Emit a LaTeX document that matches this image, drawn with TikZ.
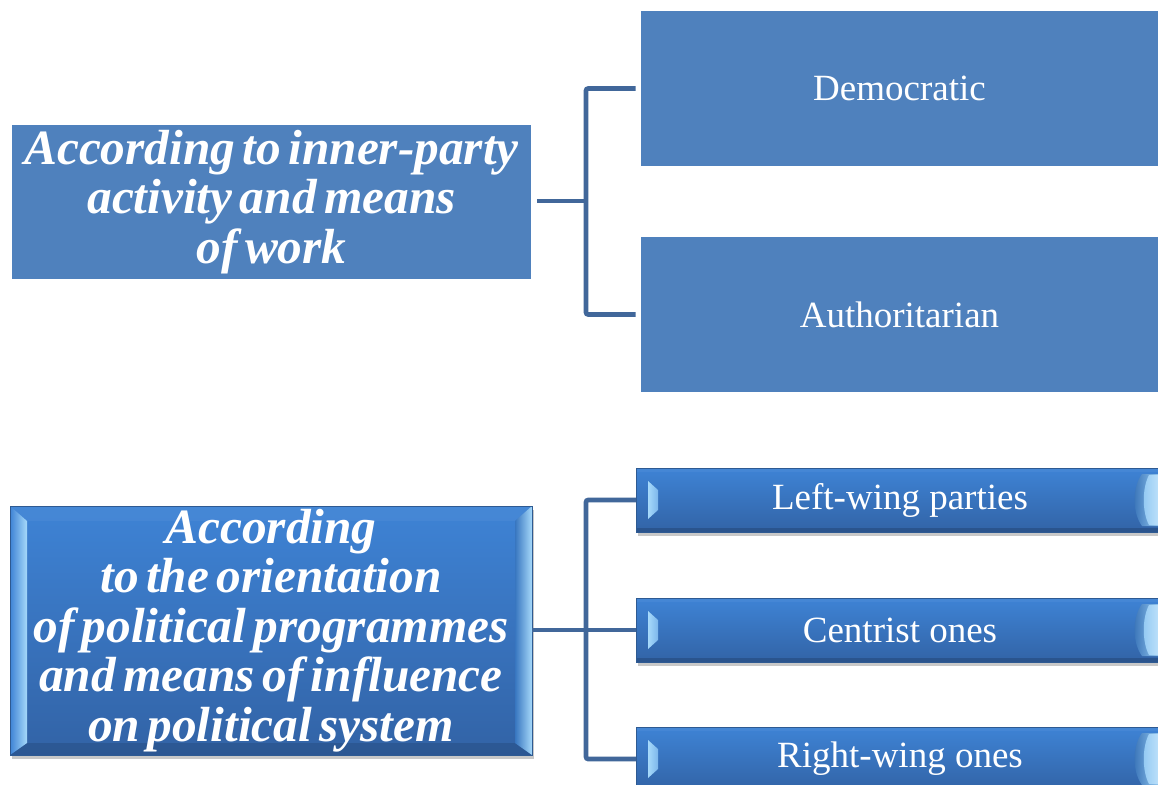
\documentclass[tikz,border=0pt]{standalone}
\usepackage{fontspec}
\setmainfont{Liberation Serif}
\newfontfamily\bifam{Liberation Serif}[WordSpace=0.6]
\usetikzlibrary{shadows,calc}
\definecolor{flatblue}{HTML}{4F81BD}
\definecolor{connblue}{HTML}{41679A}
\definecolor{bbtop}{HTML}{3E83D5}
\definecolor{bbbot}{HTML}{3263A6}
\definecolor{bbedge}{HTML}{2E5A92}
\definecolor{hilite}{HTML}{A6D9FA}
\newcommand{\bigfont}{\bifam\bfseries\itshape\fontsize{37pt}{37.2pt}\selectfont}
\newcommand{\regfont}{\fontsize{27.75pt}{33pt}\selectfont}
\tikzset{
  flatbox/.style={fill=flatblue, inner sep=0pt, outer sep=0pt, text=white, align=center},
  conn/.style={draw=connblue, line width=3.4pt, rounded corners=1.5pt},
  bevelbig/.style={top color=bbtop, bottom color=bbbot, draw=bbedge, line width=0.6pt,
    inner sep=0pt, outer sep=0pt, text=white, align=center,
    drop shadow={shadow xshift=1.5pt, shadow yshift=-3pt, opacity=0.3, fill=black!70},
    path picture={
      \coordinate (o1) at (path picture bounding box.north west);
      \coordinate (o2) at (path picture bounding box.north east);
      \coordinate (o3) at (path picture bounding box.south east);
      \coordinate (o4) at (path picture bounding box.south west);
      \coordinate (i1) at ([shift={(17,15)}]o1);
      \coordinate (i2) at ([shift={(-17,15)}]o2);
      \coordinate (i3) at ([shift={(-17,-12)}]o3);
      \coordinate (i4) at ([shift={(17,-12)}]o4);
      \fill[bbtop!80!white, opacity=0.2] (o1) -- (o2) -- (i2) -- (i1) -- cycle;
      \fill[bbbot!75!black, opacity=0.45] (o4) -- (i4) -- (i3) -- (o3) -- cycle;
      \shade[left color=bbtop, right color=hilite] (o1) -- (i1) -- (i4) -- (o4) -- cycle;
      \shade[left color=bbtop!90!black, right color=hilite] (i2) -- (o2) -- (o3) -- (i3) -- cycle;
    }},
  bevelsmall/.style={top color=bbtop, bottom color=bbbot, draw=bbedge, line width=0.6pt,
    inner sep=0pt, outer sep=0pt, text=white, align=center,
    drop shadow={shadow xshift=1.5pt, shadow yshift=-3pt, opacity=0.3, fill=black!70},
    path picture={
      \coordinate (o1) at (path picture bounding box.north west);
      \coordinate (o2) at (path picture bounding box.north east);
      \coordinate (o3) at (path picture bounding box.south east);
      \coordinate (o4) at (path picture bounding box.south west);
      \fill[bbtop!80!white, opacity=0.2] (o1) -- (o2) -- ([shift={(0,4)}]o2) -- ([shift={(0,4)}]o1) -- cycle;
      \fill[bbbot!70!black, opacity=0.5] (o4) -- (o3) -- ([shift={(0,-4)}]o3) -- ([shift={(0,-4)}]o4) -- cycle;
      \shade[left color=hilite, right color=hilite!60!bbtop] ([shift={(12,13)}]o1) -- ([shift={(22,22)}]o1) -- ([shift={(22,-22)}]o4) -- ([shift={(12,-13)}]o4) -- cycle;
      \shade[left color=bbtop!85!black, right color=hilite] ([shift={(-22,6)}]o2) .. controls ([shift={(-32,20)}]o2) and ([shift={(-32,-20)}]o3) .. ([shift={(-22,-6)}]o3) -- ([shift={(0,-6)}]o3) -- ([shift={(0,6)}]o2) -- cycle;
      \shade[left color=hilite!80!bbtop, right color=hilite!60!white] ([shift={(-15,7)}]o2) .. controls ([shift={(-22,20)}]o2) and ([shift={(-22,-20)}]o3) .. ([shift={(-15,-7)}]o3) -- ([shift={(0,-7)}]o3) -- ([shift={(0,7)}]o2) -- cycle;
    }}
}
\begin{document}
\begin{tikzpicture}[x=0.75pt, y=-0.75pt]
\useasboundingbox (0,0) rectangle (1158,785);
\clip (0,0) rectangle (1158,785);
\fill[white] (0,0) rectangle (1158,785);

% top group
\node[flatbox, font=\bigfont, minimum width=519*0.75pt, minimum height=154*0.75pt] (tl) at (271.5,202)
  {According to inner-party\\ activity and means\\ of work};
\node[flatbox, font=\regfont, minimum width=517*0.75pt, minimum height=155*0.75pt] (dem) at (899.5,88.5)
  {Democratic};
\node[flatbox, font=\regfont, minimum width=517*0.75pt, minimum height=155*0.75pt] (auth) at (899.5,314.5)
  {Authoritarian};
\coordinate (j1) at (586,201);
\draw[conn, shorten <=4.5pt] (tl.east |- j1) -- (j1);
\draw[conn, shorten <=4pt, shorten >=4pt] (dem.west) -| (j1) |- (auth.west);

% bottom group
\node[bevelbig, font=\bigfont, minimum width=522*0.75pt, minimum height=249*0.75pt] (bl) at (271,630.5)
  {According\\ to the orientation\\ of political programmes\\ and means of influence\\ on political system};
\node[bevelsmall, font=\regfont, minimum width=528*0.75pt, minimum height=64*0.75pt] (lw) at (900,500)
  {Left-wing parties};
\node[bevelsmall, font=\regfont, minimum width=528*0.75pt, minimum height=64*0.75pt] (cen) at (900,630)
  {Centrist ones};
\node[bevelsmall, font=\regfont, minimum width=528*0.75pt, minimum height=64*0.75pt] (rw) at (900,759)
  {Right-wing ones};
\coordinate (j2) at (586,630);
\draw[conn] (bl.east |- j2) -- (j2);
\draw[conn] (j2) -- (cen.west);
\draw[conn] (lw.west) -| (j2) |- (rw.west);
\end{tikzpicture}
\end{document}
